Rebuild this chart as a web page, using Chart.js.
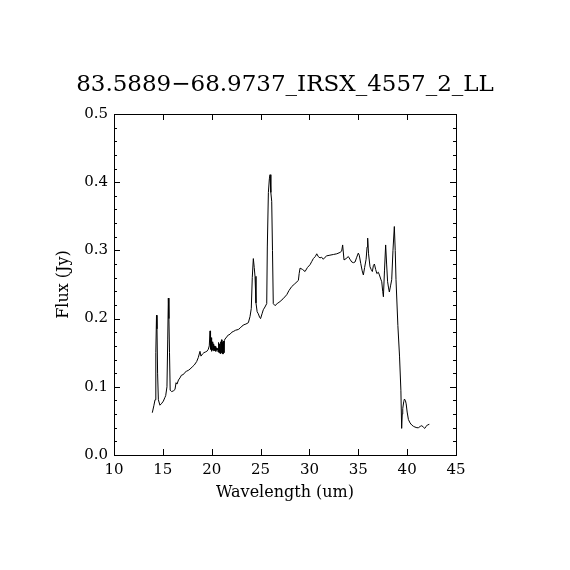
<!DOCTYPE html>
<html>
<head>
  <meta charset="utf-8">
  <title>83.5889-68.9737_IRSX_4557_2_LL</title>
  <script src="https://cdn.jsdelivr.net/npm/chart.js"></script>
  <style>
    html, body { margin: 0; padding: 0; background: #fff; }
    #wrap { width: 570px; height: 570px; }
  </style>
</head>
<body>
  <div id="wrap"><canvas id="spec"></canvas></div>

  <script>
    const TITLE = '83.5889\u221268.9737_IRSX_4557_2_LL';
    const X_TITLE = 'Wavelength (um)';
    const Y_TITLE = 'Flux (Jy)';

    // spectrum
    const wavelength = [
      13.92, 14.09, 14.20, 14.28, 14.35, 14.40, 14.46, 14.54, 14.70, 14.90,
      15.05, 15.20, 15.29, 15.42, 15.50, 15.56, 15.62, 15.68, 15.75, 15.90,
      16.07, 16.24, 16.35, 16.45, 16.60, 16.75, 16.90, 17.10, 17.25, 17.44,
      17.60, 17.78, 18.00, 18.22, 18.46, 18.63, 18.80, 18.90, 19.05, 19.20,
      19.35, 19.50, 19.65, 19.75, 19.83, 19.88, 19.93, 19.97, 20.01, 20.05,
      20.10, 20.14, 20.18, 20.22, 20.27, 20.32, 20.37, 20.42, 20.48, 20.54,
      20.60, 20.65, 20.70, 20.75, 20.80, 20.85, 20.90, 20.95, 21.00, 21.05,
      21.10, 21.15, 21.20, 21.25, 21.30, 21.36, 21.53, 21.70, 21.87, 22.05,
      22.20, 22.45, 22.72, 22.90, 23.10, 23.30, 23.50, 23.75, 23.92, 24.05,
      24.15, 24.26, 24.35, 24.43, 24.53, 24.65, 24.77, 24.90, 25.00, 25.15,
      25.28, 25.45, 25.63, 25.69, 25.80, 25.90, 25.97, 26.05, 26.14, 26.22,
      26.30, 26.48, 26.70, 26.99, 27.30, 27.68, 27.90, 28.19, 28.50, 28.87,
      28.95, 29.04, 29.30, 29.55, 29.80, 30.06, 30.25, 30.40, 30.60, 30.75,
      30.90, 31.08, 31.25, 31.42, 31.60, 31.77, 32.10, 32.45, 32.80, 33.13,
      33.30, 33.40, 33.54, 33.75, 33.98, 34.15, 34.33, 34.50, 34.67, 34.84,
      35.00, 35.10, 35.25, 35.40, 35.52, 35.65, 35.80, 35.90, 35.96, 36.05,
      36.20, 36.32, 36.44, 36.55, 36.65, 36.78, 36.90, 37.05, 37.16, 37.30,
      37.40, 37.50, 37.57, 37.68, 37.80, 37.90, 38.00, 38.10, 38.18, 38.30,
      38.42, 38.55, 38.69, 38.78, 38.86, 39.05, 39.22, 39.36, 39.44, 39.50,
      39.55, 39.65, 39.72, 39.82, 39.90, 40.00, 40.13, 40.30, 40.47, 40.65,
      40.80, 41.00, 41.15, 41.35, 41.50, 41.65, 41.80, 41.95, 42.07, 42.27
    ];
    const flux = [
      0.062, 0.073, 0.081, 0.150, 0.205, 0.185, 0.120, 0.081, 0.073, 0.076,
      0.079, 0.084, 0.087, 0.100, 0.170, 0.230, 0.200, 0.150, 0.095, 0.093,
      0.094, 0.096, 0.106, 0.104, 0.110, 0.113, 0.117, 0.118, 0.121, 0.123,
      0.124, 0.126, 0.129, 0.132, 0.137, 0.143, 0.152, 0.145, 0.148, 0.150,
      0.151, 0.152, 0.155, 0.160, 0.182, 0.155, 0.172, 0.152, 0.168, 0.154,
      0.166, 0.153, 0.163, 0.155, 0.160, 0.153, 0.159, 0.152, 0.157, 0.154,
      0.156, 0.151, 0.165, 0.150, 0.163, 0.149, 0.166, 0.149, 0.169, 0.150,
      0.165, 0.148, 0.167, 0.150, 0.168, 0.170, 0.173, 0.176, 0.177, 0.180,
      0.181, 0.183, 0.184, 0.186, 0.189, 0.191, 0.192, 0.194, 0.203, 0.215,
      0.260, 0.288, 0.275, 0.262, 0.223, 0.210, 0.207, 0.202, 0.200, 0.207,
      0.213, 0.217, 0.222, 0.305, 0.385, 0.405, 0.411, 0.385, 0.372, 0.300,
      0.222, 0.219, 0.222, 0.225, 0.229, 0.235, 0.241, 0.247, 0.251, 0.256,
      0.266, 0.274, 0.272, 0.269, 0.275, 0.279, 0.284, 0.288, 0.291, 0.295,
      0.291, 0.289, 0.290, 0.287, 0.290, 0.292, 0.293, 0.294, 0.295, 0.297,
      0.299, 0.308, 0.286, 0.288, 0.291, 0.287, 0.283, 0.282, 0.283, 0.290,
      0.296, 0.293, 0.281, 0.270, 0.264, 0.275, 0.287, 0.305, 0.318, 0.295,
      0.276, 0.272, 0.269, 0.278, 0.280, 0.272, 0.266, 0.268, 0.264, 0.258,
      0.254, 0.240, 0.232, 0.270, 0.308, 0.280, 0.254, 0.245, 0.239, 0.248,
      0.257, 0.300, 0.335, 0.300, 0.257, 0.190, 0.145, 0.095, 0.039, 0.060,
      0.068, 0.078, 0.082, 0.080, 0.075, 0.063, 0.052, 0.047, 0.044, 0.042,
      0.041, 0.040, 0.040, 0.042, 0.043, 0.041, 0.039, 0.042, 0.044, 0.045
    ];

    const xMajor = [10, 15, 20, 25, 30, 35, 40, 45];
    const yMajor = [0.0, 0.1, 0.2, 0.3, 0.4, 0.5];
    const yMinorStep = 0.02;

    const SERIF = '"DejaVu Serif", "Liberation Serif", serif';

    // IDL-style frame: box with inward ticks on all four sides, plus titles
    const frame = {
      id: 'frame',
      afterDraw(chart) {
        const { ctx, chartArea: a, scales: { x, y } } = chart;
        ctx.save();
        ctx.strokeStyle = '#000';
        ctx.lineWidth = 1;
        ctx.strokeRect(Math.round(a.left) + 0.5, Math.round(a.top) + 0.5,
          Math.round(a.right - a.left), Math.round(a.bottom - a.top));

        ctx.beginPath();
        for (const v of xMajor) {
          const px = Math.round(x.getPixelForValue(v)) + 0.5;
          ctx.moveTo(px, a.bottom); ctx.lineTo(px, a.bottom - 6);
          ctx.moveTo(px, a.top); ctx.lineTo(px, a.top + 6);
        }
        for (let v = 0; v <= 0.5001; v += yMinorStep) {
          const major = yMajor.some(m => Math.abs(m - v) < 1e-6);
          const len = major ? 6 : 3;
          const py = Math.round(y.getPixelForValue(v)) + 0.5;
          ctx.moveTo(a.left, py); ctx.lineTo(a.left + len, py);
          ctx.moveTo(a.right, py); ctx.lineTo(a.right - len, py);
        }
        ctx.stroke();

        ctx.fillStyle = '#000';
        ctx.textAlign = 'center';
        ctx.textBaseline = 'alphabetic';
        ctx.font = '23px ' + SERIF;
        ctx.fillText(TITLE, (a.left + a.right) / 2, 91);

        ctx.font = '16px ' + SERIF;
        ctx.fillText(X_TITLE, (a.left + a.right) / 2, 497);

        ctx.translate(68, (a.top + a.bottom) / 2);
        ctx.rotate(-Math.PI / 2);
        ctx.fillText(Y_TITLE, 0, 0);
        ctx.restore();
      }
    };

    new Chart(document.getElementById('spec'), {
      type: 'line',
      data: {
        datasets: [{
          data: wavelength.map((w, i) => ({ x: w, y: flux[i] })),
          borderColor: '#000',
          borderWidth: 1,
          pointRadius: 0,
          tension: 0,
          fill: false
        }]
      },
      options: {
        responsive: true,
        maintainAspectRatio: false,
        animation: false,
        layout: { padding: { left: 0, right: 114, top: 114, bottom: 0 } },
        plugins: { legend: { display: false }, tooltip: { enabled: false } },
        scales: {
          x: {
            type: 'linear',
            min: 10, max: 45,
            afterFit: s => { s.height = 115; },
            grid: { display: false, drawTicks: false },
            border: { display: false },
            ticks: {
              stepSize: 5, padding: 6, color: '#000',
              font: { family: SERIF, size: 15 },
              maxRotation: 0
            }
          },
          y: {
            min: 0, max: 0.5,
            afterFit: s => { s.width = 114; },
            grid: { display: false, drawTicks: false },
            border: { display: false },
            ticks: {
              stepSize: 0.1, padding: 6, color: '#000',
              font: { family: SERIF, size: 15 },
              callback: v => v.toFixed(1)
            }
          }
        }
      },
      plugins: [frame]
    });
  </script>
</body>
</html>
